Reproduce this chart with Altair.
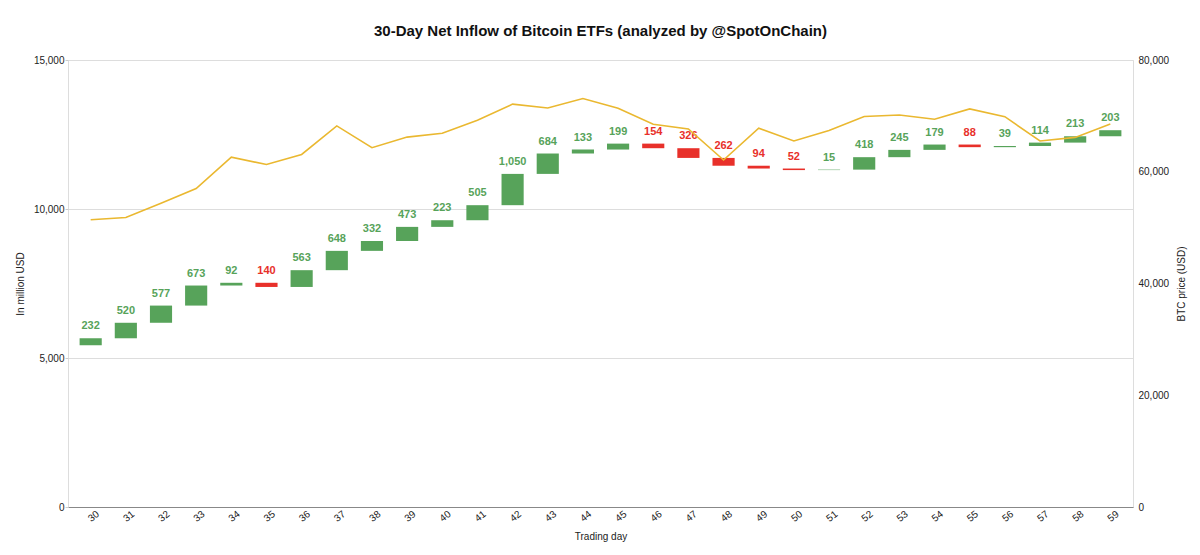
import altair as alt
import pandas as pd

days = list(range(30, 60))
net_flow = [232, 520, 577, 673, 92, -140, 563, 648, 332, 473, 223, 505, 1050, 684,
            133, 199, -154, -326, -262, -94, -52, 15, 418, 245, 179, -88, 39, 114, 213, 203]
start_total = 5430
btc_price = [51400, 51800, 54350, 57000, 62600, 61300, 63100, 68200, 64300, 66200,
             66900, 69200, 72100, 71400, 73100, 71350, 68500, 67650, 62100, 67800,
             65500, 67400, 69900, 70150, 69400, 71250, 69850, 65500, 66150, 68550]

df = pd.DataFrame({"day": [str(d) for d in days], "flow": net_flow, "btc": btc_price})
df["end"] = start_total + df["flow"].cumsum()
df["start"] = df["end"] - df["flow"]
df["top"] = df[["start", "end"]].max(axis=1)
df["label"] = df["flow"].abs()
df["sign"] = ["pos" if v >= 0 else "neg" for v in df["flow"]]

FONT = "Liberation Sans"
day_order = [str(d) for d in days]
LABEL_EXPR = "format(datum.value, ',.0f')"

x_enc = alt.X("day:N", sort=day_order,
              scale=alt.Scale(paddingInner=0.37, paddingOuter=0.33),
              axis=alt.Axis(title="Trading day", labelAngle=-38, labelAlign="center",
                            labelBaseline="top", labelPadding=5, ticks=False,
                            domain=True, domainColor="#888888", grid=False,
                            labelFont=FONT, labelFontSize=10, labelColor="#222",
                            titleFont=FONT, titleFontSize=10, titleFontWeight="normal",
                            titleColor="#222", titlePadding=8))

left_axis = alt.Axis(title="In million USD", values=[0, 5000, 10000, 15000],
                     labelExpr=LABEL_EXPR, grid=True, gridColor="#dddddd",
                     domain=False, ticks=True, tickColor="#cccccc", tickSize=3,
                     labelFont=FONT, labelFontSize=10, labelColor="#222", labelPadding=1,
                     titleFont=FONT, titleFontSize=10, titleFontWeight="normal",
                     titleColor="#222", titlePadding=8)
y_left = alt.Scale(domain=[0, 15000])
sign_scale = alt.Scale(domain=["pos", "neg"], range=["#57a35a", "#e8302a"])

bars = alt.Chart(df).mark_bar().encode(
    x=x_enc,
    y=alt.Y("start:Q", scale=y_left, axis=left_axis),
    y2="end:Q",
    color=alt.Color("sign:N", scale=sign_scale, legend=None),
)

labels = alt.Chart(df).mark_text(baseline="bottom", dy=-7, font=FONT, fontSize=11,
                                 fontWeight="bold").encode(
    x=alt.X("day:N", sort=day_order),
    y=alt.Y("top:Q", scale=y_left, axis=left_axis),
    text=alt.Text("label:Q", format=","),
    color=alt.Color("sign:N", scale=sign_scale, legend=None),
)

left = alt.layer(bars, labels)

line = alt.Chart(df).mark_line(color="#eab830", strokeWidth=1.6).encode(
    x=alt.X("day:N", sort=day_order),
    y=alt.Y("btc:Q", scale=alt.Scale(domain=[0, 80000]),
            axis=alt.Axis(title="BTC price (USD)", orient="right", titleAngle=270,
                          titleBaseline="top",
                          values=[0, 20000, 40000, 60000, 80000], labelExpr=LABEL_EXPR,
                          grid=False, domain=False, ticks=False,
                          labelFont=FONT, labelFontSize=10, labelColor="#222",
                          labelPadding=5,
                          titleFont=FONT, titleFontSize=10, titleFontWeight="normal",
                          titleColor="#222", titlePadding=8)),
)

chart = alt.layer(left, line).resolve_scale(y="independent").properties(
    width=1065, height=447,
    title=alt.TitleParams("30-Day Net Inflow of Bitcoin ETFs (analyzed by @SpotOnChain)",
                          font=FONT, fontSize=15, fontWeight="bold", color="#111",
                          anchor="middle", offset=16),
    autosize=alt.AutoSizeParams(type="none"),
    padding={"left": 60, "top": 52, "right": 59, "bottom": 40},
).configure_view(strokeWidth=0).configure(background="white")

chart.save("out.html", embed_options={"renderer": "svg", "actions": False})
